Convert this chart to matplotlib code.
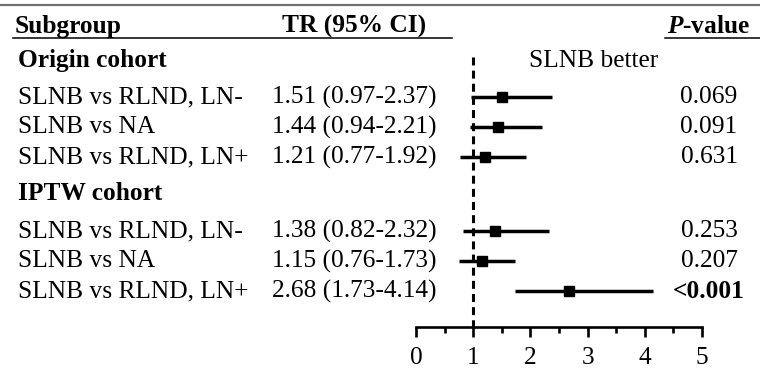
#!/usr/bin/env python3
"""Forest plot of time ratios, SLNB comparisons, origin and IPTW cohorts."""

import matplotlib
matplotlib.use("Agg")
import matplotlib.pyplot as plt
from matplotlib.ticker import MultipleLocator

COHORTS = ["Origin cohort", "IPTW cohort"]
SUBGROUPS = ["SLNB vs RLND, LN-", "SLNB vs NA", "SLNB vs RLND, LN+"]
TR = [[1.51, 1.44, 1.21], [1.38, 1.15, 2.68]]
LOWER = [[0.97, 0.94, 0.77], [0.82, 0.76, 1.73]]
UPPER = [[2.37, 2.21, 1.92], [2.32, 1.73, 4.14]]
P_VALUES = [["0.069", "0.091", "0.631"], ["0.253", "0.207", "<0.001"]]
X_TICKS = [0, 1, 2, 3, 4, 5]

plt.rcParams["font.family"] = ["Liberation Serif", "DejaVu Serif"]
plt.rcParams["mathtext.fontset"] = "custom"
plt.rcParams["mathtext.rm"] = "Liberation Serif"
plt.rcParams["mathtext.it"] = "Liberation Serif:italic"
plt.rcParams["mathtext.bf"] = "Liberation Serif:bold"
plt.rcParams["mathtext.bfit"] = "Liberation Serif:italic:bold"

W, H = 760, 368
FS = 18.3
# pixel rows: cohort heading then its three subgroups
COHORT_Y = [60, 194]
ROW_Y = [[97, 127, 157], [231, 261, 291]]
AXIS_Y = 327


def main():
    fig = plt.figure(figsize=(W / 100, H / 100), dpi=100)
    bg = fig.add_axes([0, 0, 1, 1])
    bg.set_xlim(0, W)
    bg.set_ylim(H, 0)
    bg.axis("off")

    # header rules and titles
    bg.plot([0, W], [5, 5], color="#707070", lw=1.6)
    bg.plot([13, 452], [38, 38], color="black", lw=1.1)
    bg.plot([665, W], [38, 38], color="black", lw=1.1)
    bg.text(15, 33, "Subgroup", fontsize=FS, fontweight="bold", va="baseline")
    bg.text(354, 33, "TR (95% CI)", fontsize=FS, fontweight="bold",
            ha="center", va="baseline")
    bg.text(709, 33, r"$\bfit{P}$-value", fontsize=FS, fontweight="bold",
            ha="center", va="baseline")

    ax = fig.add_axes([416 / W, 0, 286 / W, 1])
    ax.set_xlim(0, 5)
    ax.set_ylim(H, 0)
    ax.patch.set_visible(False)
    for side in ("left", "right", "top"):
        ax.spines[side].set_visible(False)
    ax.spines["bottom"].set_position(("data", AXIS_Y))
    ax.spines["bottom"].set_linewidth(1.9)
    ax.set_yticks([])
    ax.set_xticks(X_TICKS)
    ax.xaxis.set_minor_locator(MultipleLocator(0.5))
    ax.tick_params(axis="x", which="major", direction="out", length=7.2,
                   width=1.9, labelsize=FS, pad=7)
    ax.tick_params(axis="x", which="minor", direction="out", length=4.3,
                   width=1.9)

    ax.plot([1, 1], [57, AXIS_Y], color="black", lw=2.2,
            dashes=(2.6, 1.7))
    ax.text(3.1, 61, "SLNB better", fontsize=FS, ha="center", va="center")

    for c, cohort in enumerate(COHORTS):
        bg.text(18, COHORT_Y[c], cohort, fontsize=FS, fontweight="bold",
                va="center")
        for r, name in enumerate(SUBGROUPS):
            y = ROW_Y[c][r]
            tr, lo, hi = TR[c][r], LOWER[c][r], UPPER[c][r]
            bg.text(18, y, name, fontsize=FS, va="center")
            bg.text(272, y, f"{tr:.2f} ({lo:.2f}-{hi:.2f})", fontsize=FS,
                    va="center")
            p = P_VALUES[c][r]
            bg.text(709, y, p, fontsize=FS, ha="center", va="center",
                    fontweight="bold" if p.startswith("<") else "normal")
            ax.plot([lo, hi], [y, y], color="black", lw=2.5,
                    solid_capstyle="butt")
            ax.plot(tr, y, "s", color="black", ms=7.5)

    fig.savefig("out.png", dpi=100)
    plt.close(fig)


if __name__ == "__main__":
    main()
